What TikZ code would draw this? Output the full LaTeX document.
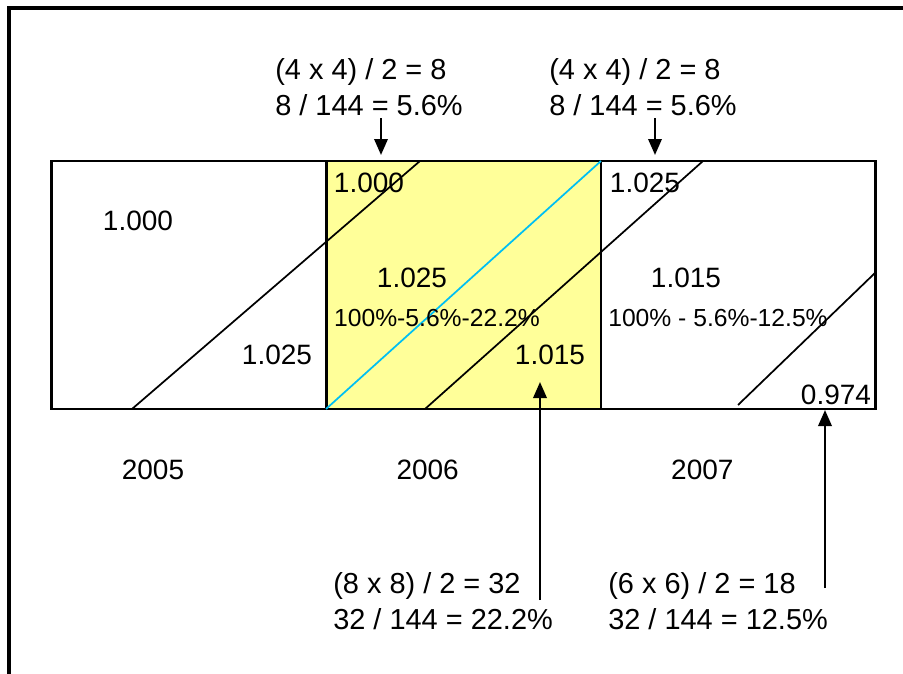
\documentclass[tikz,border=0pt]{standalone}
\usepackage{fontspec}
\setmainfont{Liberation Sans}
\usepackage{xcolor}
\usepackage{tikz}
\usetikzlibrary{arrows.meta,positioning}
\definecolor{hi}{HTML}{FFFF99}
\definecolor{sky}{HTML}{00BFF3}
\tikzset{cell/.style={draw, line width=1.9pt, inner sep=0pt, outer sep=0pt, minimum width=206pt, minimum height=186pt},
         val/.style={font=\fontsize{21}{25}\selectfont, inner sep=0pt},
         pct/.style={font=\fontsize{18.5}{22}\selectfont, inner sep=0pt},
         frm/.style={font=\fontsize{21.7}{27.5}\selectfont, align=left, inner sep=0pt, anchor=north west},
         yr/.style={font=\fontsize{21}{25}\selectfont, inner sep=0pt},
         arr/.style={-{Triangle[length=12pt, width=10pt]}, line width=1.8pt},
         diag/.style={line width=1.3pt}}

\begin{document}
\begin{tikzpicture}[x=0.75pt, y=-0.75pt]
\useasboundingbox (0,0) rectangle (903,674);
\draw[line width=2.3pt] (903,8) -- (9,8) -- (9,674);
% the three years
\node[cell] (c5) at (189,285) {};
\node[cell, fill=hi, right=0pt of c5] (c6) {};
\node[cell, right=0pt of c6] (c7) {};
\draw[diag] (132,409) -- (420,161);
\draw[diag, sky] (326,409) -- (601,161);
\draw[diag] (425,409) -- (703,161);
\draw[diag] (738,405) -- (876,272);
\node[yr, below=38pt of c5, xshift=-27pt] (y5) {2005};
\node[yr, below=38pt of c6, xshift=-27pt] (y6) {2006};
\node[yr, below=38pt of c7, xshift=-27pt] (y7) {2007};
% values
\node[val] (v1) at (138,221) {1.000};
\node[val] (v2) at (277,355) {1.025};
\node[val] (v3) at (369,183) {1.000};
\node[val] (v4) at (412,278) {1.025};
\node[pct] (p1) at (437,318) {100\%-5.6\%-22.2\%};
\node[val] (v5) at (550,355) {1.015};
\node[val] (v6) at (645,183) {1.025};
\node[val] (v7) at (686,278) {1.015};
\node[pct] (p2) at (718,318) {100\% - 5.6\%-12.5\%};
\node[val] (v8) at (836,395) {0.974};
% triangles
\node[frm] (f1) at (275,58) {(4 x 4) / 2 = 8\\8 / 144 = 5.6\%};
\node[frm] (f2) at (549,58) {(4 x 4) / 2 = 8\\8 / 144 = 5.6\%};
\node[frm] (f3) at (333,572) {(8 x 8) / 2 = 32\\32 / 144 = 22.2\%};
\node[frm] (f4) at (608,572) {(6 x 6) / 2 = 18\\32 / 144 = 12.5\%};
\coordinate (s1) at (381,118); \coordinate (t1) at (381,155);
\coordinate (s2) at (655,118); \coordinate (t2) at (655,155);
\coordinate (s3) at (540,600); \coordinate (t3) at (540,382);
\coordinate (s4) at (825,588); \coordinate (t4) at (825,410);
\draw[arr] (s1) -- (t1); \draw[arr] (s2) -- (t2); \draw[arr] (s3) -- (t3); \draw[arr] (s4) -- (t4);
\end{tikzpicture}
\end{document}
